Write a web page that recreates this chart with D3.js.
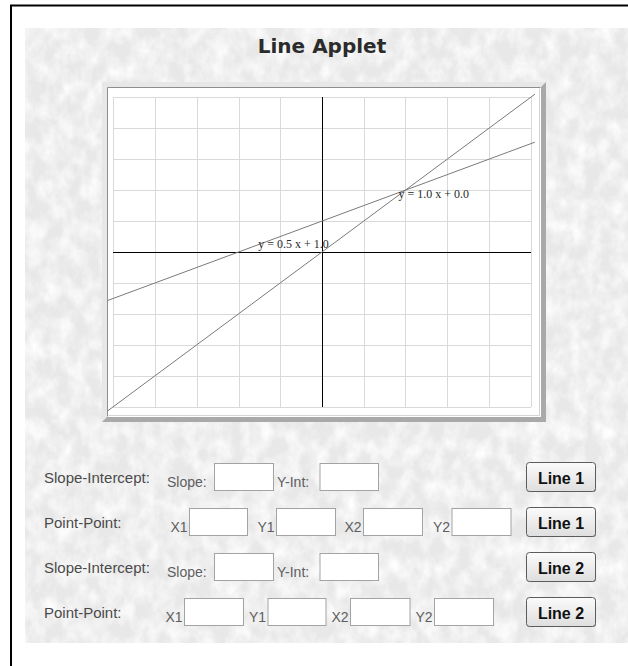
<!DOCTYPE html>
<html>
<head>
<meta charset="utf-8">
<script src="https://cdn.jsdelivr.net/npm/d3@7"></script>
<style>
  html, body { margin: 0; padding: 0; background: #ffffff; }
  svg { display: block; }
</style>
</head>
<body>
<script>
// ---------- data ----------
const chartTitle = "Line Applet";
const xTicks = [-5, -4, -3, -2, -1, 0, 1, 2, 3, 4, 5];
const yTicks = [-5, -4, -3, -2, -1, 0, 1, 2, 3, 4, 5];
const lineSlopes = [1.0, 0.5];
const lineIntercepts = [0.0, 1.0];
const lineLabelX = [1.83, -1.53];          // data x where each equation label starts
const lineExtent = [-5.13, 5.10];          // x range over which the lines are drawn
const rowLabels = ["Slope-Intercept:", "Point-Point:", "Slope-Intercept:", "Point-Point:"];
const slopeFieldLabels = ["Slope:", "Y-Int:"];
const pointFieldLabels = ["X1", "Y1", "X2", "Y2"];
const buttonLabels = ["Line 1", "Line 1", "Line 2", "Line 2"];

// ---------- layout ----------
const W = 628, H = 666;
const svg = d3.select("body").append("svg").attr("width", W).attr("height", H);
const defs = svg.append("defs");

// paper/marble texture
const filt = defs.append("filter").attr("id", "marble")
  .attr("filterUnits", "userSpaceOnUse")
  .attr("x", 25).attr("y", 28).attr("width", 603).attr("height", 615);
filt.append("feTurbulence").attr("type", "fractalNoise")
  .attr("baseFrequency", "0.07 0.05").attr("numOctaves", 5).attr("seed", 11).attr("result", "n");
filt.append("feColorMatrix").attr("in", "n").attr("type", "matrix")
  .attr("values", "0 0 0 0 1  0 0 0 0 1  0 0 0 0 1  1.7 0 0 0 -0.55");

const bgroup = svg.append("g");
bgroup.append("rect").attr("x", 25).attr("y", 28).attr("width", 603).attr("height", 615)
  .attr("fill", "#e8e8e8");
bgroup.append("rect").attr("x", 25).attr("y", 28).attr("width", 603).attr("height", 615)
  .attr("fill", "#fff").attr("filter", "url(#marble)");

// page border (left + top)
svg.append("path").attr("d", `M11,${H} V5.5 H${W}`)
  .attr("fill", "none").attr("stroke", "#000").attr("stroke-width", 2);

// title
svg.append("text").attr("x", 322).attr("y", 53).attr("text-anchor", "middle")
  .style("font-family", "'DejaVu Sans', Verdana, sans-serif").style("font-weight", "bold")
  .style("font-size", "20px").attr("fill", "#2b2b2b").text(chartTitle);

// ---------- frame ----------
const fr = svg.append("g");
fr.append("rect").attr("x", 102).attr("y", 82).attr("width", 444).attr("height", 340).attr("fill", "#a9a9a9");
fr.append("path").attr("d", "M102,82 H546 L541,87 H107 V417 L102,422 Z").attr("fill", "#e7e7e7");
fr.append("rect").attr("x", 107).attr("y", 87).attr("width", 434).attr("height", 330).attr("fill", "#ffffff");
fr.append("path").attr("d", "M107.5,416.5 V87.5 H540.5").attr("fill", "none").attr("stroke", "#8e8e8e");
fr.append("path").attr("d", "M108.5,415.5 H539.5 V88.5").attr("fill", "none").attr("stroke", "#d4d4d4");

// ---------- scales ----------
const x = d3.scaleLinear().domain([-5, 5]).range([113.3, 530.7]);
const y = d3.scaleLinear().domain([-5, 5]).range([406.7, 97.3]);

const grid = svg.append("g").attr("stroke", "#d9d9d9").attr("stroke-width", 1).attr("shape-rendering", "crispEdges");
grid.selectAll("line.v").data(xTicks).join("line").attr("class", "v")
  .attr("x1", d => Math.round(x(d)) + 0.5).attr("x2", d => Math.round(x(d)) + 0.5)
  .attr("y1", y(-5)).attr("y2", y(5));
grid.selectAll("line.h").data(yTicks).join("line").attr("class", "h")
  .attr("y1", d => Math.round(y(d)) + 0.5).attr("y2", d => Math.round(y(d)) + 0.5)
  .attr("x1", x(-5)).attr("x2", x(5));

// axes
const ax = svg.append("g").attr("stroke", "#000").attr("stroke-width", 1).attr("shape-rendering", "crispEdges");
ax.append("line").attr("x1", x(-5)).attr("x2", x(5))
  .attr("y1", Math.round(y(0)) + 0.5).attr("y2", Math.round(y(0)) + 0.5);
ax.append("line").attr("y1", y(-5)).attr("y2", y(5))
  .attr("x1", Math.round(x(0)) + 0.5).attr("x2", Math.round(x(0)) + 0.5);

// lines
const lineGen = d3.line().x(d => x(d[0])).y(d => y(d[1]));
lineSlopes.forEach((m, i) => {
  const b = lineIntercepts[i];
  const pts = lineExtent.map(xv => [xv, m * xv + b]);
  svg.append("path").attr("d", lineGen(pts)).attr("fill", "none")
    .attr("stroke", "#7a7a7a").attr("stroke-width", 1);
});
// equation labels
lineSlopes.forEach((m, i) => {
  const b = lineIntercepts[i];
  const lx = lineLabelX[i];
  svg.append("text").attr("x", x(lx)).attr("y", y(m * lx + b) + 3)
    .style("font-family", "'Liberation Serif', 'Times New Roman', serif").style("font-size", "12px")
    .attr("fill", "#2a2a2a")
    .text(`y = ${m.toFixed(1)} x + ${b.toFixed(1)}`);
});

// ---------- form rows ----------
const rowTop = i => 462 + i * 45;
const sans = "'Liberation Sans', Arial, sans-serif";

const btnGrad = defs.append("linearGradient").attr("id", "btn").attr("x1", 0).attr("y1", 0).attr("x2", 0).attr("y2", 1);
btnGrad.append("stop").attr("offset", 0).attr("stop-color", "#fbfbfb");
btnGrad.append("stop").attr("offset", 1).attr("stop-color", "#dedede");

const slopeBoxes = [[214, 274], [319.5, 379]];
const slopeLabelX = [167, 277];
const pointBoxes = [
  [[189, 248], [276, 336], [363, 423], [451.5, 511.5]],
  [[184, 244], [267.5, 326.5], [350, 410.5], [434, 494]]
];

function inputBox(g, x0, x1, top) {
  g.append("rect").attr("x", x0 + 0.5).attr("y", top + 1.5).attr("width", x1 - x0 - 1).attr("height", 27)
    .attr("fill", "#fff").attr("stroke", "#a3a3a3");
}

rowLabels.forEach((lab, i) => {
  const top = rowTop(i);
  const g = svg.append("g");
  g.append("text").attr("x", 44).attr("y", top + 21).style("font-family", sans).style("font-size", "15px")
    .attr("fill", "#4a4a4a").text(lab);
  if (i % 2 === 0) {
    slopeFieldLabels.forEach((fl, j) => {
      g.append("text").attr("x", slopeLabelX[j]).attr("y", top + 25).style("font-family", sans)
        .style("font-size", "14px").attr("fill", "#5e5e5e").text(fl);
      inputBox(g, slopeBoxes[j][0], slopeBoxes[j][1], top);
    });
  } else {
    const boxes = pointBoxes[(i - 1) / 2];
    pointFieldLabels.forEach((fl, j) => {
      g.append("text").attr("x", boxes[j][0] - 1.5).attr("y", top + 25).attr("text-anchor", "end")
        .style("font-family", sans).style("font-size", "14px").attr("fill", "#5e5e5e").text(fl);
      inputBox(g, boxes[j][0], boxes[j][1], top);
    });
  }
  // button
  g.append("rect").attr("x", 527).attr("y", top + 1).attr("width", 69).attr("height", 29).attr("rx", 3)
    .attr("fill", "#8a8a8a");
  g.append("rect").attr("x", 526.5).attr("y", top + 0.5).attr("width", 69).attr("height", 29).attr("rx", 3)
    .attr("fill", "url(#btn)").attr("stroke", "#5c5c5c");
  g.append("text").attr("x", 561).attr("y", top + 22).attr("text-anchor", "middle")
    .style("font-family", sans).style("font-weight", "bold").style("font-size", "16px")
    .attr("fill", "#111").text(buttonLabels[i]);
});
</script>
</body>
</html>
